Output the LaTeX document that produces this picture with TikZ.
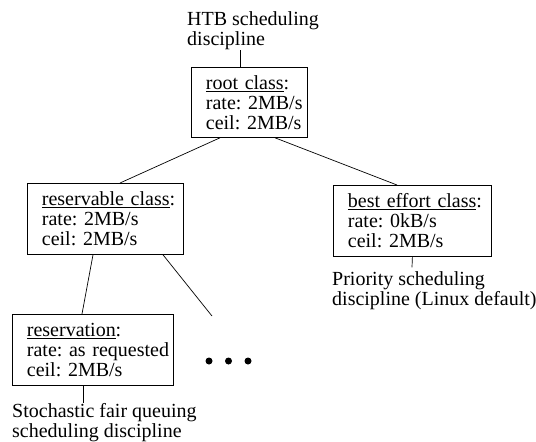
\documentclass[tikz,border=0pt]{standalone}
\usepackage{fontspec}
\setmainfont{Liberation Serif}
\usetikzlibrary{calc}
\begin{document}
\frenchspacing
\begin{tikzpicture}[x=1pt,y=-1pt,
  txt/.style={font=\fontsize{20}{20}\selectfont\frenchspacing},
  cls/.style={txt, draw, line width=0.8pt, align=left, anchor=north west,
    inner xsep=14.5pt, inner ysep=0pt},
  note/.style={txt, align=left, anchor=north west, inner sep=0pt},
  link/.style={line width=0.7pt},
  dot/.style={circle, fill, inner sep=0pt, minimum size=7pt}]
\useasboundingbox (0,0) rectangle (536,442);

% class boxes
\node[cls, text width=87pt, minimum height=70pt] (root) at (191,67)
  {\mbox{\underline{root class}:}\\ \mbox{rate: 2MB/s}\\ \mbox{ceil: 2MB/s}};
\node[cls, text width=127pt, minimum height=71pt] (resv) at (27,183)
  {\mbox{\underline{reservable class}:}\\ \mbox{rate: 2MB/s}\\ \mbox{ceil: 2MB/s}};
\node[cls, text width=129pt, minimum height=71pt] (best) at (333,185)
  {\mbox{\underline{best effort class}:}\\ \mbox{rate: 0kB/s}\\ \mbox{ceil: 2MB/s}};
\node[cls, text width=132pt, minimum height=71pt] (rsvn) at (12,314)
  {\mbox{\underline{reservation}:}\\ \mbox{rate: as requested}\\ \mbox{ceil: 2MB/s}};

% scheduling discipline labels
\node[note] (htb) at (187,11.3) {HTB scheduling\\ discipline};
\node[note] (prio) at (332,271.3) {Priority scheduling\\ discipline (Linux default)};
\node[note] (sfq) at (12,403) {Stochastic fair queuing\\ scheduling discipline};

% further classes
\foreach \i/\x in {1/209,2/228.5,3/248}
  \node[dot] (dot\i) at (\x,361) {};
\coordinate (more) at (212,316);

% connectors
\draw[link] ($(root.north west)+(49,0)$) -- ($(htb.south west)+(53,0)$);
\draw[link] ($(root.south west)+(29,0)$) -- ($(resv.north west)+(93,0)$);
\draw[link] ($(root.south west)+(84,0)$) -- ($(best.north west)+(64,0)$);
\draw[link] ($(resv.south west)+(66,0)$) -- ($(rsvn.north west)+(70,0)$);
\draw[link] ($(resv.south west)+(136,0)$) -- (more);
\draw[link] (best.south) -- ($(prio.north west)+(80,-4)$);
\draw[link] ($(rsvn.south west)+(71,0)$) -- ($(sfq.north west)+(71,0)$);
\end{tikzpicture}
\end{document}
